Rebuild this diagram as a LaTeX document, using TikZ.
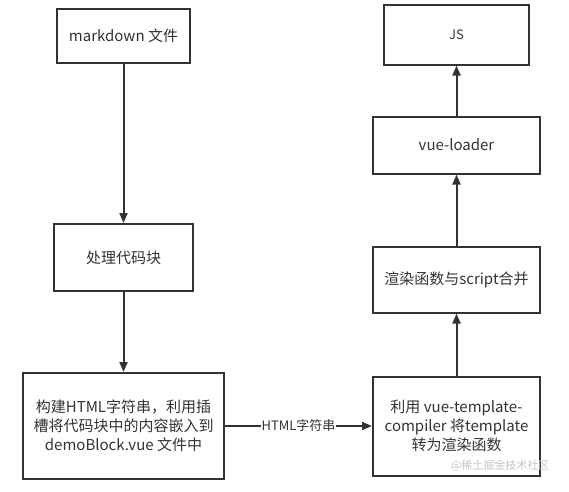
\documentclass[tikz,border=0pt]{standalone}
\usepackage{fontspec}
\setmainfont{Noto Sans CJK SC}
\definecolor{boxgray}{RGB}{51,51,51}
\usetikzlibrary{arrows.meta, positioning}

\begin{document}
\begin{tikzpicture}[x=1pt, y=1pt,
          box/.style={draw=boxgray, line width=2pt, fill=white,
              minimum width=167pt, minimum height=60pt, inner sep=0pt,
              font=\fontsize{15}{19}\selectfont, text=boxgray, align=center},
          arr/.style={-{Triangle[length=10pt, width=8pt]}, boxgray, line width=2pt}
        ]
        \useasboundingbox (0,0) rectangle (569,-491);
        \node[box, minimum width=133pt, minimum height=54pt] (md) at (123.5,-36) {markdown 文件};
        \node[box, below=159pt of md, minimum width=139pt, minimum height=67pt] (proc) {处理代码块};
        \node[box, below=80pt of proc, minimum width=201pt, minimum height=106pt]
        (build) {构建HTML字符串，利用插\\槽将代码块中的内容嵌入到\\demoBlock.vue 文件中};
        \node[box, right=147pt of build, minimum height=99pt]
        (comp) {利用 vue-template-\\compiler 将template\\转为渲染函数};
        \node[box, above=62pt of comp, minimum height=66pt] (rend) {渲染函数与script合并};
        \node[box, above=71pt of rend, minimum height=57pt] (load) {vue-loader};
        \node[box, above=50pt of load, minimum width=145pt, font=\fontsize{13}{16}\selectfont] (js) {JS};
        \draw[arr] (md)    -- (proc);
        \draw[arr] (proc)  -- (build);
        \draw[arr] (build) -- node[fill=white, inner sep=1pt, text=boxgray,
            font=\fontsize{13}{16}\selectfont] (lbl) {HTML字符串} (comp);
        \draw[arr] (comp)  -- (rend);
        \draw[arr] (rend)  -- (load);
        \draw[arr] (load)  -- (js);
        \node[anchor=east, text=gray!45, font=\fontsize{11}{13}\selectfont]
        (wm) at (553,-466) {@稀土掘金技术社区};
      \end{tikzpicture}
\end{document}
